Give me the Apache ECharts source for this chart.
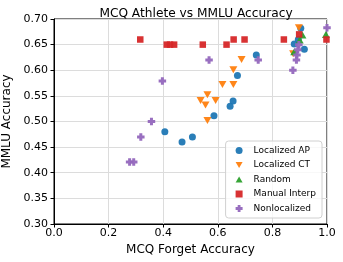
<!DOCTYPE html>
<html>
<head>
<meta charset="utf-8">
<script src="https://cdn.jsdelivr.net/npm/echarts@6/dist/echarts.min.js"></script>
<style>html,body{margin:0;padding:0;background:#fff}#c{width:343px;height:262px}</style>
</head>
<body>
<div id="c"></div>
<script>
const seriesNames = ["Localized AP", "Localized CT", "Random", "Manual Interp", "Nonlocalized"];
const localizedAP = [[0.406,0.480],[0.469,0.460],[0.507,0.470],[0.586,0.511],[0.645,0.530],[0.656,0.540],[0.672,0.590],[0.741,0.630],[0.880,0.651],[0.917,0.641],[0.904,0.682],[0.895,0.660]];
const localizedCT = [[0.537,0.541],[0.555,0.532],[0.562,0.552],[0.562,0.502],[0.592,0.541],[0.617,0.572],[0.657,0.572],[0.657,0.601],[0.687,0.621],[0.876,0.632],[0.897,0.683]];
const randomPts = [[0.880,0.636],[0.900,0.659],[0.910,0.669],[0.996,0.670]];
const manualInterp = [[0.316,0.660],[0.413,0.650],[0.425,0.650],[0.440,0.650],[0.545,0.650],[0.632,0.650],[0.658,0.660],[0.698,0.660],[0.842,0.660],[0.898,0.670],[0.998,0.660]];
const nonlocalized = [[0.277,0.421],[0.292,0.421],[0.318,0.470],[0.357,0.500],[0.397,0.579],[0.568,0.620],[0.748,0.620],[0.875,0.600],[0.888,0.620],[0.890,0.630],[0.893,0.640],[0.897,0.650],[1.0,0.683]];
const xTicks = [0, 0.2, 0.4, 0.6, 0.8, 1.0];
const yTicks = [0.30, 0.35, 0.40, 0.45, 0.50, 0.55, 0.60, 0.65, 0.70];

const colors = ['#1f77b4','#ff7f0e','#2ca02c','#d62728','#9467bd'];
const plusPath = 'path://M3,0 H7 V3 H10 V7 H7 V10 H3 V7 H0 V3 H3 Z';
const downTri = 'path://M0,0 L10,0 L5,8.7 Z';
const upTri = 'path://M5,0 L10,8.7 L0,8.7 Z';
const symbols = ['circle', downTri, upTri, 'rect', plusPath];
const sizes = [7, [8, 7], [8, 7], 6.5, 7.5];
const datas = [localizedAP, localizedCT, randomPts, manualInterp, nonlocalized];

const chart = echarts.init(document.getElementById('c'), null, {renderer: 'canvas'});
const font = 'DejaVu Sans';
chart.setOption({
  animation: false,
  textStyle: {fontFamily: font},
  title: {
    text: 'MCQ Athlete vs MMLU Accuracy',
    left: 191, top: 3, textAlign: 'center',
    textStyle: {fontFamily: font, fontSize: 12.2, fontWeight: 'normal', color: '#000'}
  },
  grid: {left: 54, right: 16, top: 19, bottom: 38, outerBoundsMode: 'none', containLabel: false, show: true, borderColor: '#000', borderWidth: 1, backgroundColor: 'transparent'},
  legend: {
    orient: 'vertical', right: 21, bottom: 44,
    itemWidth: 7, itemHeight: 7, itemGap: 5.5,
    padding: [5, 6, 5, 10],
    backgroundColor: 'rgba(255,255,255,0.8)', borderColor: '#d0d0d0', borderWidth: 1, borderRadius: 3,
    textStyle: {fontFamily: font, fontSize: 9, color: '#000', padding: [0,0,0,6]},
    data: seriesNames.map((n, i) => ({name: n, icon: symbols[i], itemStyle: {color: colors[i]}}))
  },
  xAxis: {
    type: 'value', min: 0, max: 1, interval: 0.2,
    name: 'MCQ Forget Accuracy', nameLocation: 'middle', nameGap: 19,
    nameTextStyle: {fontFamily: font, fontSize: 12, color: '#000'},
    axisLine: {show: true, lineStyle: {color: '#000'}},
    axisTick: {show: true, length: 3.5, lineStyle: {color: '#000'}},
    axisLabel: {fontFamily: font, fontSize: 11, color: '#000', margin: 4, formatter: v => (+v).toFixed(1)},
    splitLine: {show: true, lineStyle: {color: '#dcdcdc', width: 1}}
  },
  yAxis: {
    type: 'value', min: 0.30, max: 0.70, interval: 0.05,
    name: 'MMLU Accuracy', nameLocation: 'middle', nameGap: 37, nameRotate: 90,
    nameTextStyle: {fontFamily: font, fontSize: 12, color: '#000'},
    axisLine: {show: true, lineStyle: {color: '#000'}},
    axisTick: {show: true, length: 3.5, lineStyle: {color: '#000'}},
    axisLabel: {fontFamily: font, fontSize: 11, color: '#000', margin: 6, formatter: v => (+v).toFixed(2)},
    splitLine: {show: true, lineStyle: {color: '#dcdcdc', width: 1}}
  },
  series: datas.map((d, i) => ({
    name: seriesNames[i], type: 'scatter', data: d,
    symbol: symbols[i], symbolSize: sizes[i],
    itemStyle: {color: colors[i], opacity: 0.95},
    z: 2 + i
  }))
});
</script>
</body>
</html>
